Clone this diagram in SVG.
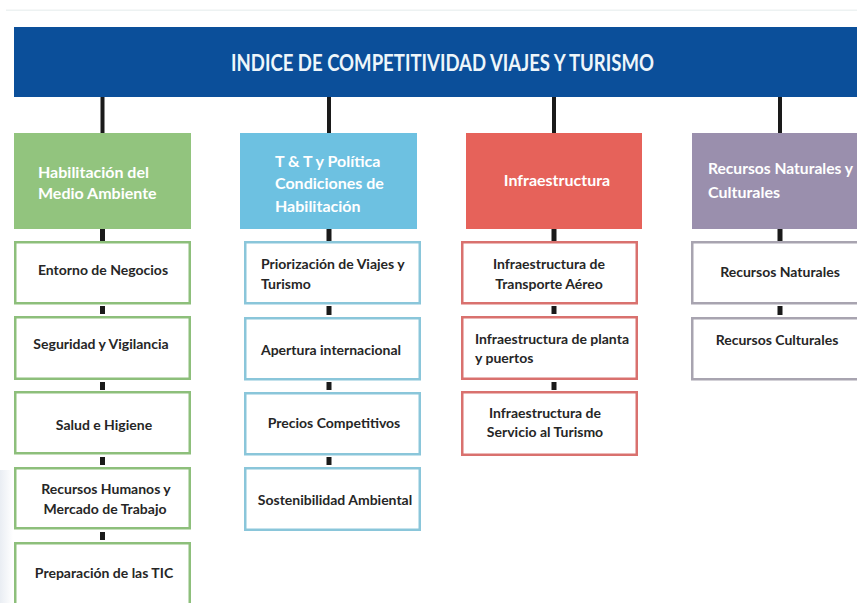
<svg xmlns="http://www.w3.org/2000/svg" width="857" height="603" viewBox="0 0 857 603">
<style>
.t{font-family:Lato,"Open Sans","Liberation Sans",sans-serif;font-weight:bold}
.title{font-size:22px;fill:#EEF6FA}
.h{font-size:16px;fill:#FFFFFF}
.s{font-size:14px;fill:#262626}
.bar{fill:#1A1A1A}
.g2{fill:#FFFFFF;stroke:#8DBF7B;stroke-width:2.5}
.b2{fill:#FFFFFF;stroke:#8AC6DA;stroke-width:2.5}
.r2{fill:#FFFFFF;stroke:#D9716E;stroke-width:2.5}
.p2{fill:#FFFFFF;stroke:#A8A4B0;stroke-width:2.5}
</style>
<defs>
  <linearGradient id="wm" x1="0" y1="0" x2="1" y2="0">
    <stop offset="0" stop-color="#E4E9F0"/>
    <stop offset="1" stop-color="#FFFFFF"/>
  </linearGradient>
</defs>
<rect x="0" y="0" width="857" height="603" fill="#FFFFFF"/>
<rect x="6" y="9.5" width="851" height="1.5" fill="#EDF2F2"/>
<rect x="0" y="470" width="13" height="133" fill="url(#wm)" opacity="0.8"/>

<g id="connectors">
  <rect class="bar" x="100.5" y="97" width="4" height="36"/>
  <rect class="bar" x="327" y="97" width="4" height="36"/>
  <rect class="bar" x="552" y="97" width="4" height="36"/>
  <rect class="bar" x="778" y="97" width="4" height="36"/>
  <rect class="bar" x="100" y="229" width="5" height="12"/>
  <rect class="bar" x="100" y="306" width="5" height="8"/>
  <rect class="bar" x="100" y="382" width="5" height="8"/>
  <rect class="bar" x="100" y="457" width="5" height="8"/>
  <rect class="bar" x="100" y="532" width="5" height="8"/>
  <rect class="bar" x="326.5" y="229" width="5" height="12"/>
  <rect class="bar" x="326.5" y="306" width="5" height="9"/>
  <rect class="bar" x="326.5" y="382" width="5" height="8"/>
  <rect class="bar" x="326.5" y="457" width="5" height="8"/>
  <rect class="bar" x="551.5" y="229" width="5" height="12"/>
  <rect class="bar" x="551.5" y="306" width="5" height="8"/>
  <rect class="bar" x="551.5" y="382" width="5" height="8"/>
  <rect class="bar" x="777.5" y="229" width="5" height="12"/>
  <rect class="bar" x="777.5" y="306" width="5" height="9"/>
</g>

<g id="header">
  <rect x="14" y="27" width="843" height="70" fill="#0B4F9A"/>
  <text class="t title" x="231" y="71" textLength="423" lengthAdjust="spacingAndGlyphs">INDICE DE COMPETITIVIDAD VIAJES Y TURISMO</text>
</g>

<g id="habilitacion">
  <rect x="14" y="133" width="177" height="96" fill="#92C47E"/>
  <text class="t h" x="38" y="178">Habilitación del</text>
  <text class="t h" x="38" y="199">Medio Ambiente</text>
</g>
<g id="politica">
  <rect x="240" y="133" width="177" height="96" fill="#6DC1E1"/>
  <text class="t h" x="275" y="167">T &amp; T y Política</text>
  <text class="t h" x="275" y="189">Condiciones de</text>
  <text class="t h" x="275" y="212">Habilitación</text>
</g>
<g id="infraestructura">
  <rect x="466" y="133" width="176" height="96" fill="#E6625A"/>
  <text class="t h" x="557" y="186" text-anchor="middle">Infraestructura</text>
</g>
<g id="recursos">
  <rect x="692" y="133" width="165" height="96" fill="#9A8FAD"/>
  <text class="t h" x="708" y="174" textLength="145" lengthAdjust="spacingAndGlyphs">Recursos Naturales y</text>
  <text class="t h" x="708" y="198">Culturales</text>
</g>

<g id="entorno">
  <rect class="g2" x="15.25" y="242.25" width="174.5" height="61"/>
  <text class="t s" x="103" y="275" text-anchor="middle">Entorno de Negocios</text>
</g>
<g id="seguridad">
  <rect class="g2" x="15.25" y="317.25" width="174.5" height="61.5"/>
  <text class="t s" x="101" y="349" text-anchor="middle">Seguridad y Vigilancia</text>
</g>
<g id="salud">
  <rect class="g2" x="15.25" y="392.25" width="174.5" height="61"/>
  <text class="t s" x="104" y="430" text-anchor="middle">Salud e Higiene</text>
</g>
<g id="rrhh">
  <rect class="g2" x="15.25" y="468.25" width="174.5" height="60"/>
  <text class="t s" x="106" y="494" text-anchor="middle">Recursos Humanos y</text>
  <text class="t s" x="105" y="514" text-anchor="middle">Mercado de Trabajo</text>
</g>
<g id="tic">
  <rect class="g2" x="15.25" y="543.25" width="174.5" height="62"/>
  <text class="t s" x="104" y="578" text-anchor="middle">Preparación de las TIC</text>
</g>

<g id="priorizacion">
  <rect class="b2" x="245.25" y="242.25" width="174.5" height="61"/>
  <text class="t s" x="261" y="269">Priorización de Viajes y</text>
  <text class="t s" x="261" y="289">Turismo</text>
</g>
<g id="apertura">
  <rect class="b2" x="245.25" y="318.25" width="174.5" height="61"/>
  <text class="t s" x="331" y="355" text-anchor="middle">Apertura internacional</text>
</g>
<g id="precios">
  <rect class="b2" x="245.25" y="393.25" width="174.5" height="61"/>
  <text class="t s" x="334" y="428" text-anchor="middle">Precios Competitivos</text>
</g>
<g id="sostenibilidad">
  <rect class="b2" x="245.25" y="468.25" width="174.5" height="61.5"/>
  <text class="t s" x="335" y="505" text-anchor="middle">Sostenibilidad Ambiental</text>
</g>

<g id="transporte">
  <rect class="r2" x="462.25" y="242.25" width="174.5" height="61"/>
  <text class="t s" x="549" y="269" text-anchor="middle">Infraestructura de</text>
  <text class="t s" x="549" y="289" text-anchor="middle">Transporte Aéreo</text>
</g>
<g id="planta">
  <rect class="r2" x="462.25" y="317.25" width="174.5" height="61.5"/>
  <text class="t s" x="475" y="344">Infraestructura de planta</text>
  <text class="t s" x="475" y="363">y puertos</text>
</g>
<g id="servicio">
  <rect class="r2" x="462.25" y="392.25" width="174.5" height="62.5"/>
  <text class="t s" x="545" y="418" text-anchor="middle">Infraestructura de</text>
  <text class="t s" x="545" y="437" text-anchor="middle">Servicio al Turismo</text>
</g>

<g id="naturales">
  <rect class="p2" x="692.25" y="242.25" width="170" height="61"/>
  <text class="t s" x="780" y="277" text-anchor="middle">Recursos Naturales</text>
</g>
<g id="culturales">
  <rect class="p2" x="692.25" y="318.25" width="170" height="61"/>
  <text class="t s" x="777" y="345" text-anchor="middle">Recursos Culturales</text>
</g>
</svg>
